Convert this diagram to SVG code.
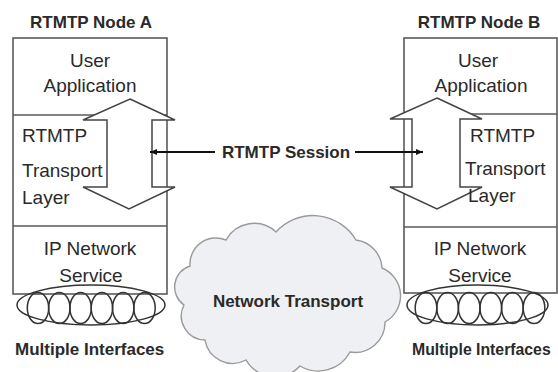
<svg xmlns="http://www.w3.org/2000/svg" width="558" height="372" viewBox="0 0 558 372">
  <defs>
    <style>
      .box { fill: #ffffff; stroke: #5a5a5a; stroke-width: 1.6; }
      .div { stroke: #5a5a5a; stroke-width: 1.6; }
      .harrow { fill: #ffffff; stroke: #444444; stroke-width: 1.5; stroke-linejoin: miter; }
      .t { font-family: "Liberation Sans", Arial, sans-serif; font-size: 19px; fill: #2a2a2a; }
      .b { font-family: "Liberation Sans", Arial, sans-serif; font-size: 17px; font-weight: bold; fill: #2a2a2a; }
      .ell { fill: none; stroke: #333333; stroke-width: 1.5; }
      .conn { stroke: #111111; stroke-width: 2; fill: none; }
    </style>
    <marker id="ah" markerWidth="8" markerHeight="8" refX="7" refY="4" orient="auto-start-reverse" markerUnits="userSpaceOnUse">
      <path d="M0,1 L7,4 L0,7 Z" fill="#111111"/>
    </marker>
  </defs>

  <rect width="558" height="372" fill="#ffffff"/>

  <!-- Cloud -->
  <g id="cloud">
    <path d="M 190 266 A 26 26 0 0 1 226 240 A 32 32 0 0 1 276 232 A 50 50 0 0 1 356 240 A 30 30 0 0 1 382 268 A 30 30 0 0 1 385 322 A 30 30 0 0 1 350 352 A 36 36 0 0 1 300 366 A 34 34 0 0 1 246 360 A 28 28 0 0 1 205 340 A 24 24 0 0 1 184 305 A 22 22 0 0 1 190 266 Z" fill="#eff0f3" stroke="#9a9a9a" stroke-width="1.4"/>
    <text class="b" x="288" y="307" text-anchor="middle">Network Transport</text>
  </g>

  <!-- Node A -->
  <g id="nodeA">
    <text class="b" x="91" y="28" text-anchor="middle">RTMTP Node A</text>
    <rect class="box" x="13" y="38" width="154" height="256"/>
    <line class="div" x1="13" y1="115" x2="167" y2="115"/>
    <line class="div" x1="13" y1="226" x2="167" y2="226"/>
    <path class="harrow" d="M130 99 L175 120 L152 120 L152 187 L175 187 L129 209 L83 187 L107 187 L107 120 L83 120 Z"/>
    <text class="t" x="90" y="67" text-anchor="middle">User</text>
    <text class="t" x="90" y="92" text-anchor="middle">Application</text>
    <text class="t" x="22" y="142">RTMTP</text>
    <text class="t" x="22" y="177">Transport</text>
    <text class="t" x="22" y="204">Layer</text>
    <text class="t" x="90" y="255" text-anchor="middle">IP Network</text>
    <text class="t" x="91" y="282" text-anchor="middle">Service</text>
    <ellipse class="ell" cx="91" cy="305" rx="74" ry="20"/>
    <ellipse class="ell" cx="38" cy="308" rx="10.7" ry="15.5"/>
    <ellipse class="ell" cx="59.3" cy="308" rx="10.7" ry="15.5"/>
    <ellipse class="ell" cx="80.6" cy="308" rx="10.7" ry="15.5"/>
    <ellipse class="ell" cx="101.9" cy="308" rx="10.7" ry="15.5"/>
    <ellipse class="ell" cx="123.2" cy="308" rx="10.7" ry="15.5"/>
    <ellipse class="ell" cx="144.5" cy="308" rx="10.7" ry="15.5"/>
    <text class="b" x="15" y="355">Multiple Interfaces</text>
  </g>

  <!-- Node B -->
  <g id="nodeB">
    <text class="b" x="479" y="28" text-anchor="middle">RTMTP Node B</text>
    <rect class="box" x="404" y="38" width="153" height="255"/>
    <line class="div" x1="404" y1="114" x2="557" y2="114"/>
    <line class="div" x1="404" y1="227" x2="557" y2="227"/>
    <path class="harrow" d="M437 98 L482 119 L460 119 L460 187 L482 187 L437 209 L390 187 L412 187 L412 119 L390 119 Z"/>
    <text class="t" x="478" y="67" text-anchor="middle">User</text>
    <text class="t" x="481" y="92" text-anchor="middle">Application</text>
    <text class="t" x="470" y="142">RTMTP</text>
    <text class="t" x="465" y="175">Transport</text>
    <text class="t" x="468" y="202">Layer</text>
    <text class="t" x="480" y="255" text-anchor="middle">IP Network</text>
    <text class="t" x="480" y="282" text-anchor="middle">Service</text>
    <ellipse class="ell" cx="477.5" cy="305" rx="70.5" ry="20"/>
    <ellipse class="ell" cx="426" cy="308" rx="10.8" ry="15.5"/>
    <ellipse class="ell" cx="447.6" cy="308" rx="10.8" ry="15.5"/>
    <ellipse class="ell" cx="469.2" cy="308" rx="10.8" ry="15.5"/>
    <ellipse class="ell" cx="490.8" cy="308" rx="10.8" ry="15.5"/>
    <ellipse class="ell" cx="512.4" cy="308" rx="10.8" ry="15.5"/>
    <ellipse class="ell" cx="534" cy="308" rx="10.8" ry="15.5"/>
    <text class="b" x="412" y="355" style="font-size:15.8px">Multiple Interfaces</text>
  </g>

  <!-- Connectors -->
  <g id="connectors">
    <line class="conn" x1="215" y1="152" x2="150" y2="152" marker-end="url(#ah)"/>
    <line class="conn" x1="355" y1="152" x2="423" y2="152" marker-end="url(#ah)"/>
    <text class="b" x="286" y="158" text-anchor="middle">RTMTP Session</text>
  </g>
</svg>
